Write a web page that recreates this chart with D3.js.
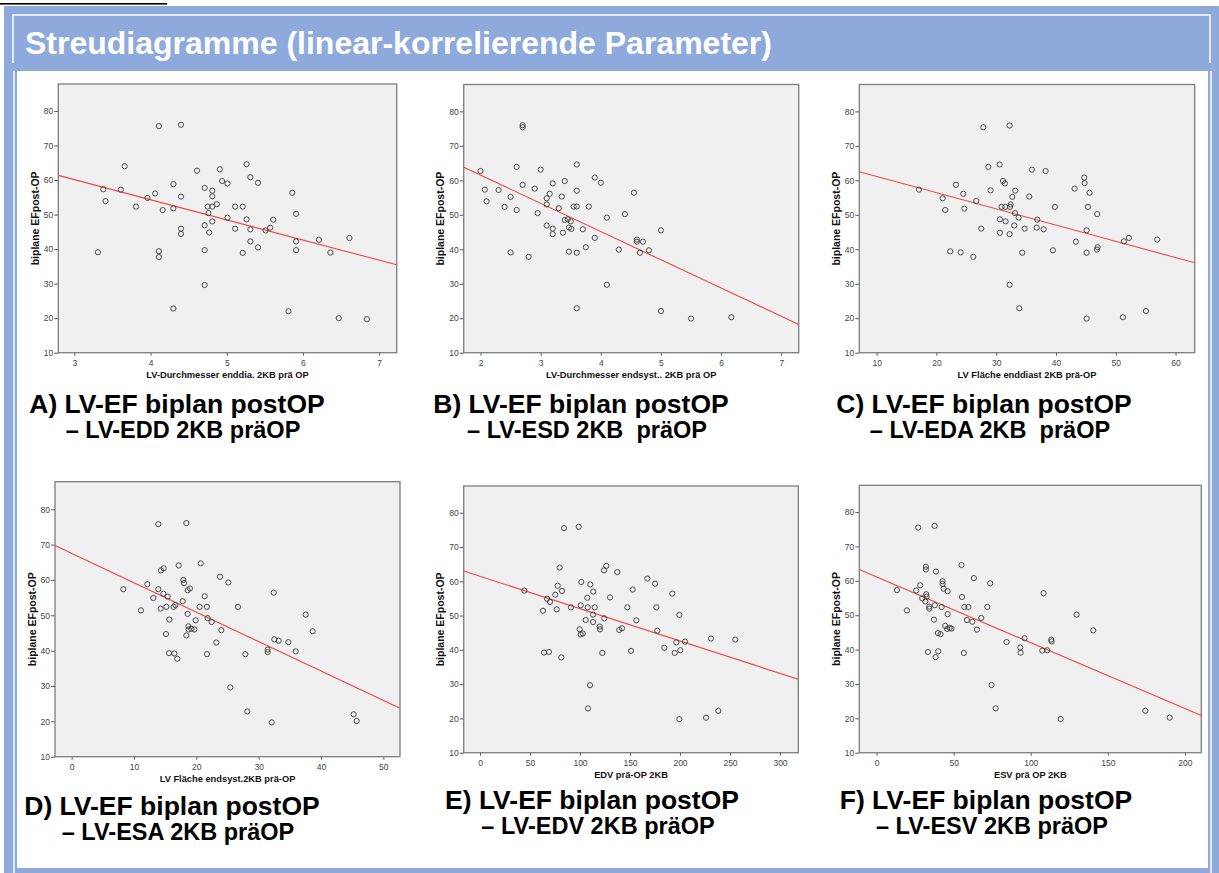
<!DOCTYPE html>
<html>
<head>
<meta charset="utf-8">
<script src="https://cdn.jsdelivr.net/npm/d3@7"></script>
<style>
  body { margin: 0; background: #fff; }
  text { font-family: "Liberation Sans", Arial, sans-serif; }
</style>
</head>
<body>
<div id="chart"></div>
<script>
// values (y = biplane EF post-OP)
const yTicks = [10, 20, 30, 40, 50, 60, 70, 80];
const yDomain = [10, 87.8];

// A) LV-EDD
const eddX = [3.31,3.38,3.41,3.66,3.61,3.81,3.96,4.06,4.11,4.11,4.11,4.16,4.30,4.30,4.30,4.40,4.40,4.40,4.40,4.61,4.71,4.71,4.71,4.71,4.75,4.76,4.77,4.81,4.81,4.81,4.81,4.87,4.91,4.94,5.01,5.01,5.11,5.11,5.21,5.21,5.26,5.26,5.31,5.31,5.31,5.41,5.41,5.51,5.57,5.61,5.81,5.86,5.91,5.91,5.91,6.21,6.36,6.47,6.61,6.84];
const eddY = [39.1,57.3,53.9,64.0,57.2,52.3,54.8,56.1,75.6,39.4,37.7,51.3,58.8,51.8,22.8,76.0,55.2,45.9,44.4,62.7,57.7,46.9,39.7,29.6,52.3,50.4,44.8,56.9,55.3,52.3,48.0,53.0,63.1,59.7,59.0,49.1,52.3,45.9,52.3,38.9,64.6,48.6,60.8,45.7,42.2,59.2,40.5,45.4,46.2,48.5,22.0,56.3,50.2,42.2,39.7,42.7,39.0,20.0,43.2,19.7];
const eddTicks = [3, 4, 5, 6, 7];

// B) LV-ESD
const esdX = [2.00,2.07,2.10,2.30,2.40,2.50,2.50,2.60,2.60,2.70,2.70,2.70,2.80,2.90,2.95,3.00,3.10,3.10,3.10,3.15,3.20,3.20,3.20,3.30,3.35,3.37,3.40,3.40,3.45,3.47,3.47,3.50,3.51,3.55,3.60,3.60,3.60,3.60,3.60,3.70,3.75,3.80,3.90,3.90,4.00,4.10,4.10,4.30,4.40,4.55,4.60,4.60,4.65,4.70,4.80,5.00,5.00,5.50,6.17];
const esdY = [62.7,57.3,53.9,57.2,52.3,55.2,39.1,63.9,51.4,76.0,75.4,58.7,37.8,57.6,50.5,63.1,54.8,53.0,46.9,56.1,59.1,46.0,44.4,51.9,55.3,44.8,59.8,48.5,48.7,39.3,46.3,48.1,45.9,52.4,64.6,57.0,52.4,39.0,22.9,45.8,40.6,52.4,60.8,43.3,59.3,49.2,29.7,39.9,50.2,56.4,42.8,42.2,39.0,42.2,39.7,45.5,22.1,19.9,20.3];
const esdTicks = [2, 3, 4, 5, 6, 7];

// C) LV-EDA
const edaX = [17.08,21.04,21.48,22.32,23.27,24.05,24.49,24.66,26.16,26.67,27.50,27.84,28.67,29.06,30.57,30.62,30.62,30.90,31.13,31.46,31.52,31.57,32.30,32.24,32.24,32.24,32.41,32.69,33.02,33.13,33.19,33.75,33.86,34.36,34.75,35.53,35.98,36.76,36.87,37.93,38.26,39.49,39.82,43.11,43.33,44.73,44.78,45.12,45.12,45.12,45.34,45.62,46.90,46.85,46.96,51.19,51.36,52.20,55.04,56.93];
const edaY = [57.3,54.8,51.4,39.4,58.7,39.1,56.1,51.8,37.8,54.0,46.0,75.4,63.9,57.1,64.6,48.7,44.8,52.3,59.8,59.1,52.3,48.1,52.3,75.9,44.4,29.7,53.0,55.2,46.9,50.5,57.0,49.2,22.9,39.0,46.0,55.3,63.1,46.3,48.6,45.8,62.7,39.7,52.3,57.6,42.2,60.8,59.2,45.5,39.0,19.9,52.3,56.4,50.2,39.9,40.6,20.3,42.3,43.3,22.1,42.8];
const edaTicks = [10, 20, 30, 40, 50, 60];

// D) LV-ESA
const esaX = [8.29,11.12,12.14,13.10,13.90,13.90,14.28,14.33,14.71,14.76,15.13,15.19,15.40,15.61,15.67,16.36,16.47,16.63,16.95,17.17,17.81,17.91,18.02,18.40,18.40,18.61,18.61,18.72,18.77,18.98,19.20,19.68,19.89,20.53,20.70,21.34,21.71,21.71,21.82,22.46,23.21,23.80,24.01,25.13,25.45,26.68,27.86,28.18,31.44,31.44,32.09,32.41,32.51,33.21,34.76,35.94,37.54,38.66,45.24,45.72];
const esaY = [57.4,51.4,58.8,54.9,75.8,57.4,51.9,62.7,56.1,63.3,44.7,52.4,55.3,39.3,48.8,52.4,39.2,52.9,37.7,64.1,54.0,60.0,59.1,76.1,44.3,57.1,50.4,46.9,46.0,57.6,46.2,46.0,48.6,52.4,64.7,55.4,52.4,39.0,49.2,48.1,42.3,60.9,45.8,59.3,29.6,52.4,39.0,22.8,40.3,39.6,19.7,56.4,43.2,42.8,42.4,39.8,50.2,45.5,22.0,20.1];
const esaTicks = [0, 10, 20, 30, 40, 50];

// E) LV-EDV
const edvX = [44.3,63.0,64.0,67.0,69.0,70.0,75.3,76.7,77.7,79.7,81.3,82.0,84.0,91.0,98.7,99.7,100.7,100.7,101.3,102.7,105.7,107.3,107.7,108.0,110.0,110.3,113.0,113.0,113.3,114.7,119.7,120.0,122.3,124.0,124.3,126.3,130.0,137.3,139.3,142.0,147.3,151.0,152.7,156.3,167.3,175.0,176.3,177.3,184.3,192.3,194.7,196.3,199.3,199.3,200.3,205.0,226.0,231.0,238.3,255.3];
const edvY = [57.3,51.4,39.2,54.9,39.4,54.0,56.1,51.8,58.7,64.0,37.8,57.2,75.5,52.4,75.9,46.0,53.0,44.5,59.8,44.8,48.7,55.2,52.4,22.9,29.7,59.1,50.3,48.1,57.0,52.4,46.8,46.0,39.1,63.2,49.2,64.5,55.3,62.7,45.8,46.3,52.4,39.7,57.6,48.6,60.8,59.3,52.4,45.6,40.6,56.4,39.1,42.2,50.2,19.8,39.9,42.4,20.2,43.3,22.2,43.0];
const edvTicks = [0, 50, 100, 150, 200, 250, 300];

// F) LV-ESV
const esvX = [13.2,19.7,25.7,27.0,28.3,29.6,31.6,32.0,32.0,32.2,32.4,33.3,34.2,34.2,37.6,37.8,37.2,38.3,38.5,39.8,40.0,41.5,42.2,42.8,42.8,43.5,44.5,45.8,46.1,46.1,47.4,48.6,55.1,55.4,56.6,56.9,58.6,59.5,62.1,63.1,65.1,67.9,71.8,73.7,74.6,77.2,84.3,93.2,93.4,96.0,107.5,108.3,110.7,113.3,113.5,119.4,129.7,140.5,174.3,190.1];
const esvY = [57.3,51.4,57.2,75.5,58.7,54.9,54.0,64.1,63.3,56.1,55.4,39.3,52.5,51.9,76.0,52.9,48.7,37.8,62.7,44.8,39.5,44.5,52.4,59.9,59.1,57.7,46.9,46.0,57.0,50.3,46.3,46.1,64.6,55.3,39.0,52.4,48.6,52.4,48.1,60.8,45.8,49.2,52.4,59.3,29.7,22.9,42.2,40.6,39.1,43.3,39.7,56.4,39.8,42.9,42.4,19.8,50.2,45.6,22.2,20.2];
const esvTicks = [0, 50, 100, 150, 200];

// linear fit lines [intercept, slope], A..F
const fitIntercept = [77.6, 77.9, 65.84, 67.5, 61.46, 61.15];
const fitSlope = [-5.83, -8.19, -0.4706, -0.831, -0.0944, -0.1916];

const xLabels = [
  "LV-Durchmesser enddia. 2KB prä OP",
  "LV-Durchmesser endsyst.. 2KB prä OP",
  "LV Fläche enddiast 2KB prä-OP",
  "LV Fläche endsyst.2KB prä-OP",
  "EDV prä-OP 2KB",
  "ESV prä OP 2KB"
];
const yLabel = "biplane EFpost-OP";
const captionLine1 = [
  "A) LV-EF biplan postOP", "B) LV-EF biplan postOP", "C) LV-EF biplan postOP",
  "D) LV-EF biplan postOP", "E) LV-EF biplan postOP", "F) LV-EF biplan postOP"
];
const captionLine2 = [
  "– LV-EDD 2KB präOP", "– LV-ESD 2KB  präOP", "– LV-EDA 2KB  präOP",
  "– LV-ESA 2KB präOP", "– LV-EDV 2KB präOP", "– LV-ESV 2KB präOP"
];
const headerTitle = "Streudiagramme (linear-korrelierende Parameter)";

// layout of each panel (pixel boxes + x domain)
const panels = [
  {xs: eddX, ys: eddY, ticks: eddTicks, dom: [2.79, 7.23],  box: [58.3, 84, 396.7, 352.7],   cap: [177, 413]},
  {xs: esdX, ys: esdY, ticks: esdTicks, dom: [1.72, 7.29],  box: [463.7, 84.5, 798.7, 352.7], cap: [581, 413]},
  {xs: edaX, ys: edaY, ticks: edaTicks, dom: [7.1, 63.2],   box: [859.3, 84.5, 1194.7, 352.7], cap: [984, 413]},
  {xs: esaX, ys: esaY, ticks: esaTicks, dom: [-2.67, 52.67], box: [55, 481.7, 400, 756.7],   cap: [172, 815]},
  {xs: edvX, ys: edvY, ticks: edvTicks, dom: [-16.3, 318.3], box: [463.7, 486, 798.3, 752.7], cap: [592, 809]},
  {xs: esvX, ys: esvY, ticks: esvTicks, dom: [-11.2, 210.6], box: [859.3, 485.3, 1201.3, 752.7], cap: [986, 809]}
];

const width = 1219, height = 873;
const blue = "#8eaadc";

const svg = d3.select("#chart")
  .append("svg")
  .attr("width", width)
  .attr("height", height);

// frame of the slide
svg.append("rect").attr("x", 0).attr("y", 0).attr("width", width).attr("height", height).attr("fill", "#fff");
svg.append("rect").attr("x", 0).attr("y", 3).attr("width", 167).attr("height", 1.6).attr("fill", "#000");
svg.append("rect").attr("x", 4).attr("y", 6).attr("width", width - 4).attr("height", height - 6).attr("fill", blue);
svg.append("path")
  .attr("d", "M13,63 V15 H1210 V63")
  .attr("fill", "none").attr("stroke", "#fff").attr("stroke-width", 1.5);
svg.append("path")
  .attr("d", "M14,71 V873 M1211,71 V873")
  .attr("fill", "none").attr("stroke", "#fff").attr("stroke-width", 1.5);
svg.append("rect").attr("x", 17).attr("y", 71).attr("width", 1191).attr("height", 797).attr("fill", "#fff");

svg.append("text")
  .attr("x", 25).attr("y", 54)
  .attr("fill", "#fff")
  .attr("font-size", 32).attr("font-weight", "bold")
  .text(headerTitle);

panels.forEach(function(p, i) {
  const [left, top, right, bottom] = p.box;
  const x = d3.scaleLinear().domain(p.dom).range([left, right]);
  const y = d3.scaleLinear().domain(yDomain).range([bottom, top]);
  const g = svg.append("g");

  g.append("rect")
    .attr("x", left).attr("y", top)
    .attr("width", right - left).attr("height", bottom - top)
    .attr("fill", "#f0f0f0");

  const ya = g.append("g")
    .attr("transform", "translate(" + left + ",0)")
    .call(d3.axisLeft(y).tickValues(yTicks).tickFormat(d3.format("d")).tickSize(4).tickPadding(1));
  const xa = g.append("g")
    .attr("transform", "translate(0," + bottom + ")")
    .call(d3.axisBottom(x).tickValues(p.ticks).tickFormat(d3.format("d")).tickSize(3).tickPadding(4));
  [ya, xa].forEach(function(a) {
    a.select(".domain").remove();
    a.selectAll("line").attr("stroke", "#555");
    a.selectAll("text")
      .attr("fill", "#444")
      .style("font-size", "8.5px")
      .style("font-family", "'Liberation Sans', Arial, sans-serif");
  });

  g.append("rect")
    .attr("x", left).attr("y", top)
    .attr("width", right - left).attr("height", bottom - top)
    .attr("fill", "none").attr("stroke", "#7d7d7d").attr("stroke-width", 1.3);

  // fit line
  const x0 = p.dom[0], x1 = p.dom[1];
  g.append("line")
    .attr("x1", x(x0)).attr("y1", y(fitIntercept[i] + fitSlope[i] * x0))
    .attr("x2", x(x1)).attr("y2", y(fitIntercept[i] + fitSlope[i] * x1))
    .attr("stroke", "#f04545").attr("stroke-width", 1.1);

  g.selectAll("circle")
    .data(p.xs.map(function(d, k) { return [d, p.ys[k]]; }))
    .enter()
    .append("circle")
    .attr("cx", function(d) { return x(d[0]); })
    .attr("cy", function(d) { return y(d[1]); })
    .attr("r", 2.6)
    .attr("fill", "none")
    .attr("stroke", "#3a3a3a")
    .attr("stroke-width", 0.9);

  g.append("text")
    .attr("transform", "translate(" + (left - 23) + "," + ((top + bottom) / 2) + ") rotate(-90)")
    .attr("text-anchor", "middle")
    .attr("dy", "0.35em")
    .attr("font-size", 10.5).attr("font-weight", "bold")
    .attr("fill", "#111")
    .text(yLabel);

  g.append("text")
    .attr("x", (left + right) / 2).attr("y", bottom + 25)
    .attr("text-anchor", "middle")
    .attr("font-size", 9.3).attr("font-weight", "bold")
    .attr("fill", "#111")
    .text(xLabels[i]);

  const cap = g.append("text")
    .attr("text-anchor", "middle")
    .attr("font-size", 26.5).attr("font-weight", "bold")
    .attr("fill", "#000")
    .style("white-space", "pre");
  cap.append("tspan").attr("x", p.cap[0]).attr("y", p.cap[1]).text(captionLine1[i]);
  cap.append("tspan").attr("x", p.cap[0] + 6).attr("y", p.cap[1] + 25)
    .attr("font-size", 23.5).text(captionLine2[i]);
});
</script>
</body>
</html>
